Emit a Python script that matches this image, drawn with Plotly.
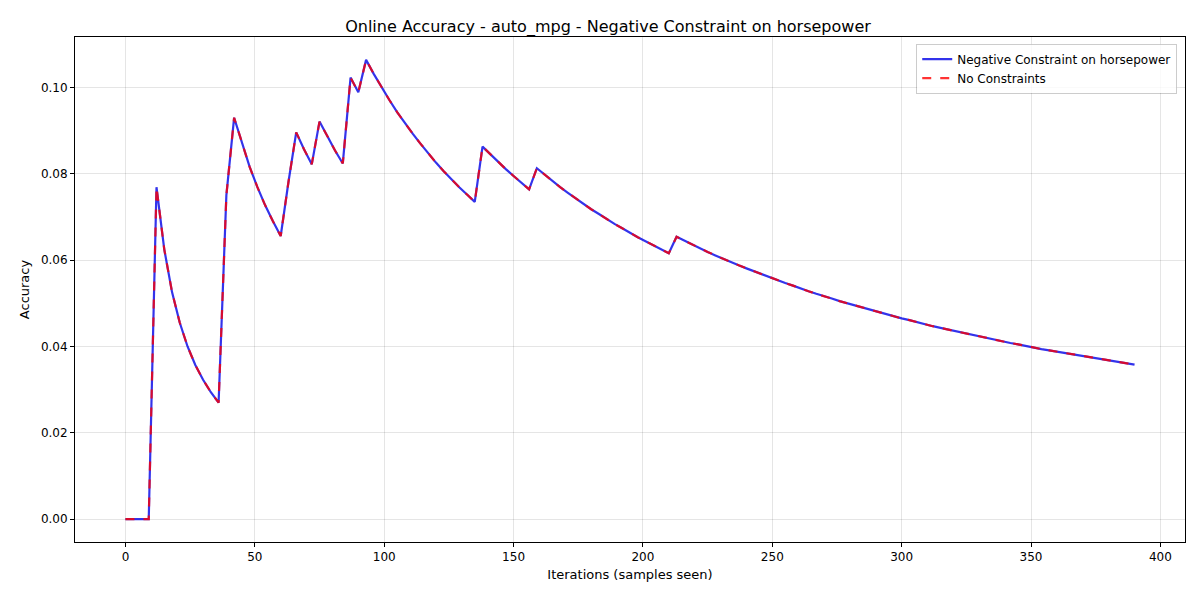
import plotly.graph_objects as go

iterations = list(range(0, 391, 3))

acc_constrained = [
    0.0, 0.0, 0.0, 0.0, 0.0769, 0.0625, 0.0526, 0.0455, 0.0400, 0.0357,
    0.0323, 0.0294, 0.0270, 0.0750, 0.0930, 0.0870, 0.0816, 0.0769, 0.0727, 0.0690,
    0.0656, 0.0781, 0.0896, 0.0857, 0.0822, 0.0921, 0.0886, 0.0854, 0.0824, 0.1023,
    0.0989, 0.1064, 0.1031, 0.1000, 0.0971, 0.0943, 0.0917, 0.0893, 0.0870, 0.0847,
    0.0826, 0.0806, 0.0787, 0.0769, 0.0752, 0.0735, 0.0863, 0.0845, 0.0828, 0.0811,
    0.0795, 0.0779, 0.0764, 0.0813, 0.0798, 0.0783, 0.0769, 0.0756, 0.0743, 0.0730,
    0.0718, 0.0707, 0.0695, 0.0684, 0.0674, 0.0663, 0.0653, 0.0644, 0.0634, 0.0625,
    0.0616, 0.0654, 0.0645, 0.0636, 0.0628, 0.0619, 0.0611, 0.0603, 0.0596, 0.0588,
    0.0581, 0.0574, 0.0567, 0.0560, 0.0553, 0.0547, 0.0541, 0.0534, 0.0528, 0.0522,
    0.0517, 0.0511, 0.0505, 0.0500, 0.0495, 0.0490, 0.0484, 0.0479, 0.0475, 0.0470,
    0.0465, 0.0461, 0.0456, 0.0452, 0.0447, 0.0443, 0.0439, 0.0435, 0.0431, 0.0427,
    0.0423, 0.0419, 0.0415, 0.0412, 0.0408, 0.0405, 0.0401, 0.0398, 0.0394, 0.0391,
    0.0388, 0.0385, 0.0381, 0.0378, 0.0375, 0.0372, 0.0369, 0.0366, 0.0364, 0.0361,
    0.0358,
]
# the two runs are identical on this dataset
acc_unconstrained = list(acc_constrained)

fig = go.Figure()
fig.add_trace(go.Scatter(x=iterations, y=acc_constrained, mode='lines',
                         name='Negative Constraint on horsepower',
                         line=dict(color='rgba(0,0,230,0.8)', width=2.2)))
fig.add_trace(go.Scatter(x=iterations, y=acc_unconstrained, mode='lines',
                         name='No Constraints',
                         line=dict(color='rgba(255,0,0,0.8)', width=2.2, dash='dash')))

axis_style = dict(showline=True, linecolor='black', mirror=True, ticks='outside',
                  ticklen=4, tickcolor='black', showgrid=True,
                  gridcolor='rgba(0,0,0,0.1)', zeroline=False,
                  tickfont=dict(size=12, color='black'))

fig.update_layout(
    width=1200, height=600,
    font=dict(family='DejaVu Sans', color='black'),
    title=dict(text='Online Accuracy - auto_mpg - Negative Constraint on horsepower',
               x=0.5, xanchor='center', y=0.978, font=dict(size=16)),
    paper_bgcolor='white', plot_bgcolor='white',
    margin=dict(l=67, r=23, t=29, b=66),
    xaxis=dict(title=dict(text='Iterations (samples seen)', font=dict(size=13), standoff=6),
               range=[-19.5, 409.5], tickvals=[0, 50, 100, 150, 200, 250, 300, 350, 400],
               **axis_style),
    yaxis=dict(title=dict(text='Accuracy', font=dict(size=13), standoff=8),
               range=[-0.0053, 0.1117], tickvals=[0, 0.02, 0.04, 0.06, 0.08, 0.10],
               tickformat='.2f', **axis_style),
    legend=dict(x=0.993, y=0.987, xanchor='right', yanchor='top',
                bordercolor='rgba(0,0,0,0.2)', borderwidth=1,
                bgcolor='rgba(255,255,255,0.8)', font=dict(size=12)),
    showlegend=True,
)

fig.write_html("out.html")
